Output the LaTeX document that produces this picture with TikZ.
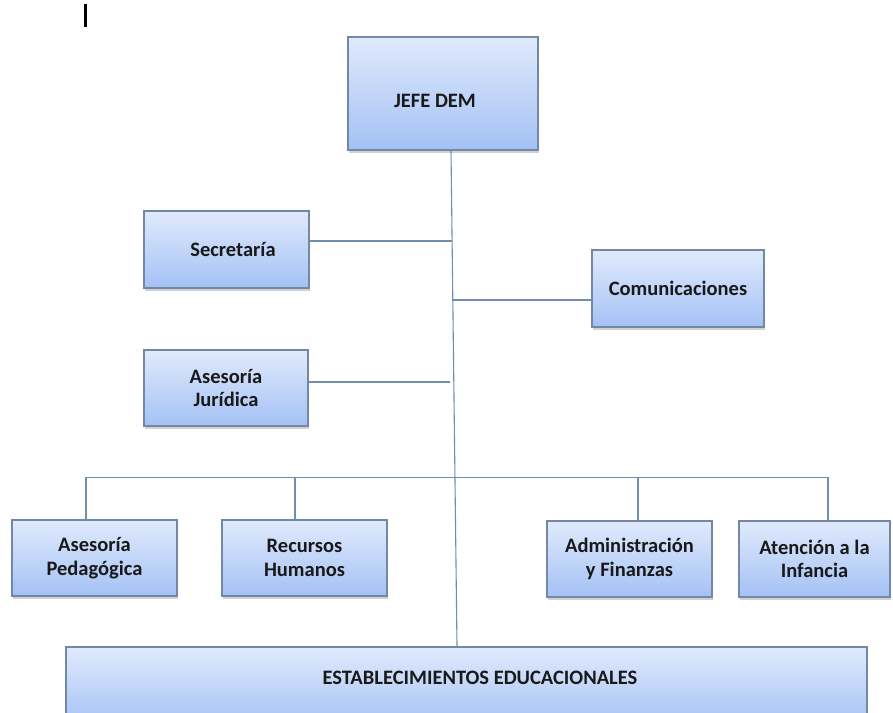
\documentclass[tikz,border=0pt]{standalone}
\usepackage{fontspec}
\setmainfont{Carlito}
\usetikzlibrary{shadows}
\definecolor{cajaarriba}{HTML}{E0EAFC}
\definecolor{cajaabajo}{HTML}{A4C1F5}
\definecolor{borde}{HTML}{7389A3}
\definecolor{linea}{HTML}{6F8FAE}
\begin{document}
\begin{tikzpicture}[x=1pt,y=-1pt,
  caja/.style={rectangle, draw=borde, line width=1.2pt, top color=cajaarriba, bottom color=cajaabajo,
    drop shadow={shadow xshift=1pt,shadow yshift=-2.5pt,opacity=0.3,fill=black!60},
    inner sep=0pt, align=center, text=black!90, font=\fontsize{20.5}{23.5}\selectfont\bfseries},
  conector/.style={draw=linea, line width=1.1pt}]
\useasboundingbox (0,0) rectangle (893,712);
% marca suelta arriba a la izquierda
\fill [black] (84,4) rectangle (86.5,27);
% cajas
\node [caja, minimum width=190pt, minimum height=113pt] (jefe) at (443,93.5) {\raisebox{-7.5pt}[\height][\depth]{JEFE DEM}\hspace*{16pt}};
\node [caja, minimum width=165pt, minimum height=77pt] (secretaria) at (226.5,249.5) {\hspace*{13pt}Secretaría};
\node [caja, minimum width=172pt, minimum height=77pt] (comunic) at (678,288.5) {Comunicaciones};
\node [caja, minimum width=164pt, minimum height=76pt] (juridica) at (226,388) {Asesoría\\Jurídica};
\node [caja, minimum width=165pt, minimum height=76pt] (pedagogia) at (94.5,558) {Asesoría\\Pedagógica};
\node [caja, minimum width=165pt, minimum height=76pt] (rrhh) at (304.5,558) {Recursos\\Humanos};
\node [caja, minimum width=165pt, minimum height=76pt] (finanzas) at (629.5,559) {Administración\\y Finanzas};
\node [caja, minimum width=151pt, minimum height=76pt] (infancia) at (814.5,559) {Atención a la\\Infancia};
\node [caja, minimum width=801pt, minimum height=80pt] (establec) at (466.5,687) {};
\node [font=\fontsize{20.5}{23.5}\selectfont\bfseries, text=black!90] (establectxt) at (480,678) {ESTABLECIMIENTOS EDUCACIONALES};
% tronco y ramas
\coordinate (t1) at (452,241);
\coordinate (t2) at (452,300);
\coordinate (t3) at (450,382);
\draw [conector] ([xshift=8pt]jefe.south) -- ([xshift=-9.5pt]establec.north);
\draw [conector] ([yshift=8.5pt]secretaria.east) -- (t1);
\draw [conector] (t2) -- ([yshift=-11.5pt]comunic.west);
\draw [conector] ([yshift=6pt]juridica.east) -- (t3);
% barra de departamentos
\draw [conector] ([xshift=-8.5pt]pedagogia.north) -- ++(0,-42) -| ([xshift=13.5pt]infancia.north);
\draw [conector] ([xshift=-9.5pt]rrhh.north) -- ++(0,-42);
\draw [conector] ([xshift=8.5pt]finanzas.north) -- ++(0,-43);
\end{tikzpicture}
\end{document}
